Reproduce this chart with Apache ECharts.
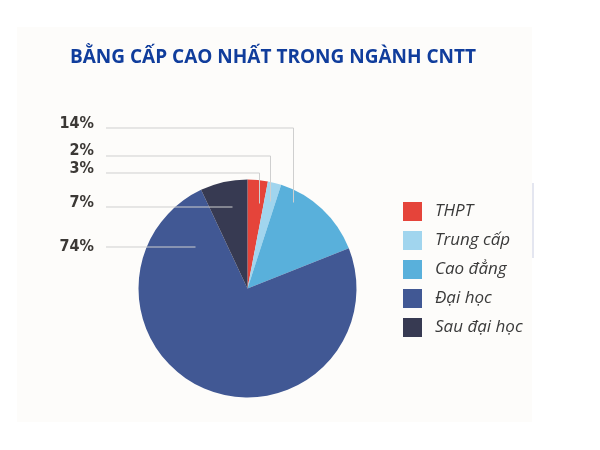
<!DOCTYPE html>
<html>
<head>
<meta charset="utf-8">
<script src="https://cdn.jsdelivr.net/npm/echarts@6/dist/echarts.min.js"></script>
<style>
  html, body { margin: 0; padding: 0; background: #ffffff; }
  #main { width: 600px; height: 450px; }
</style>
</head>
<body>
<div id="main"></div>
<script>
// ---- data ----
var categories = ['THPT', 'Trung cấp', 'Cao đẳng', 'Đại học', 'Sau đại học'];
var percentValues = [3, 2, 14, 74, 7];
var sliceColors = ['#e5443a', '#a1d5ee', '#59b0db', '#415894', '#373a52'];
var titleText = 'BẰNG CẤP CAO NHẤT TRONG NGÀNH CNTT';

// ---- layout config (not data) ----
var CX = 247.5, CY = 288.5, R = 109;
var LABEL_RIGHT = 94, LINE_START = 106;
// label text centre y, leader y, and leader end relative to pie centre
var labelLayoutCfg = [
  { ty: 169,   ly: 173, ax: 12,  ay: -85 },
  { ty: 151,   ly: 156, ax: 23,  ay: -87 },
  { ty: 123.5, ly: 128, ax: 46,  ay: -86 },
  { ty: 246.5, ly: 247, ax: -52, ay: 0 },
  { ty: 203,   ly: 207, ax: -15, ay: 0 }
];

var chart = echarts.init(document.getElementById('main'), null, { renderer: 'canvas' });

function buildData(visible) {
  return categories.map(function (c, i) {
    return {
      name: c,
      value: percentValues[i],
      itemStyle: { color: visible ? sliceColors[i] : 'rgba(0,0,0,0)' }
    };
  });
}

var option = {
  backgroundColor: '#ffffff',
  animation: false,
  graphic: [
    { type: 'rect', z: -10, shape: { x: 17, y: 27, width: 515, height: 395 },
      style: { fill: '#fdfcfa' } },
    { type: 'line', z: -5, shape: { x1: 533, y1: 183, x2: 533, y2: 258 },
      style: { stroke: '#e4e6f0', lineWidth: 2 } }
  ],
  title: {
    text: titleText,
    left: 65,
    top: 43,
    textStyle: {
      fontFamily: "'Open Sans', sans-serif",
      fontWeight: 'bold',
      fontSize: 19,
      color: '#103d9c'
    }
  },
  legend: {
    orient: 'vertical',
    left: 403,
    top: 202,
    padding: 0,
    itemWidth: 19,
    itemHeight: 19,
    itemGap: 10,
    icon: 'rect',
    data: categories.map(function (c, i) {
      return { name: c, itemStyle: { color: sliceColors[i] } };
    }),
    textStyle: {
      fontFamily: "'Open Sans', sans-serif",
      fontStyle: 'italic',
      fontSize: 17,
      lineHeight: 19,
      color: '#3a3a3a',
      padding: [0, 0, 0, 8]
    }
  },
  series: [
    {
      type: 'pie',
      z: 2,
      center: [CX, CY],
      radius: R,
      startAngle: 90,
      clockwise: true,
      itemStyle: { borderWidth: 0 },
      label: { show: false },
      labelLine: { show: false },
      data: buildData(true)
    },
    {
      type: 'pie',
      z: 3,
      silent: true,
      center: [CX, CY],
      radius: R,
      startAngle: 90,
      clockwise: true,
      avoidLabelOverlap: false,
      itemStyle: { borderWidth: 0 },
      label: {
        show: true,
        position: 'outside',
        formatter: function (p) { return p.value + '%'; },
        fontFamily: "'DejaVu Sans Condensed', 'Liberation Sans Narrow', sans-serif",
        fontWeight: 'bold',
        fontSize: 16,
        color: '#3b3835'
      },
      labelLine: {
        show: true,
        lineStyle: { color: '#cfcfcf', width: 1 }
      },
      labelLayout: function (params) {
        var cfg = labelLayoutCfg[params.dataIndex];
        var ex = CX + cfg.ax;
        var ey = cfg.ay === 0 ? cfg.ly : CY + cfg.ay;
        return {
          x: LABEL_RIGHT,
          y: cfg.ty,
          align: 'right',
          verticalAlign: 'middle',
          labelLinePoints: [[LINE_START, cfg.ly], [ex, cfg.ly], [ex, ey]]
        };
      },
      data: buildData(false)
    }
  ]
};

chart.setOption(option);
</script>
</body>
</html>
